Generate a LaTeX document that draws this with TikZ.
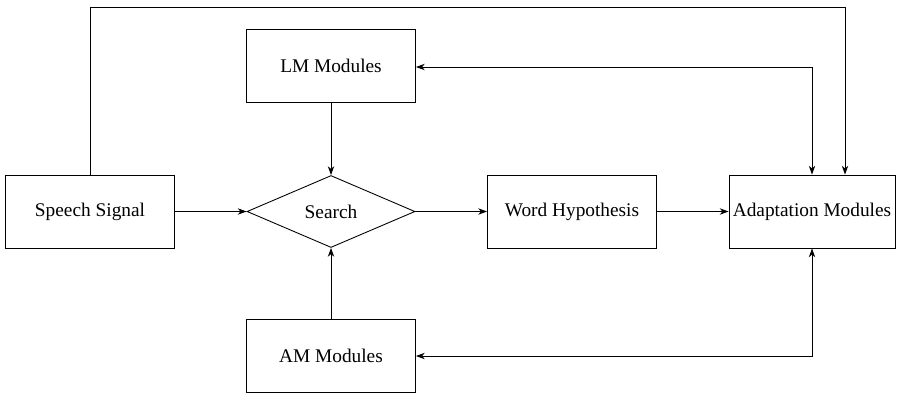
\documentclass[tikz,border=0pt]{standalone}
\usepackage{fontspec}
\setmainfont{Liberation Serif}
\usetikzlibrary{shapes.geometric,arrows.meta}

\tikzset{
  modbox/.style={draw, minimum width=3.38cm, minimum height=1.46cm, inner sep=0pt},
  decide/.style={draw, diamond, aspect=2.33, minimum width=3.36cm, minimum height=1.44cm, inner sep=0pt},
  flow/.style={-{Stealth[length=5pt,width=3.6pt,inset=1.5pt]}},
  twoway/.style={{Stealth[length=5pt,width=3.6pt,inset=1.5pt]}-{Stealth[length=5pt,width=3.6pt,inset=1.5pt]}}
}

\begin{document}
\begin{tikzpicture}[x=0.02cm, y=-0.02cm, font=\fontsize{11}{13}\selectfont, line width=0.5pt]
                \useasboundingbox (0,0) rectangle (901,393);

                \node[modbox] (speech) at (90,211.5) {Speech Signal};
                \node[decide] (search) at (331,211.5) {Search};
                \node[modbox] (lm) at (331,65.5) {LM Modules};
                \node[modbox] (am) at (331,356) {AM Modules};
                \node[modbox] (word) at (572,211.5) {Word Hypothesis};
                \node[modbox, minimum width=3.32cm] (adapt) at (812,211.5) {Adaptation Modules};

                \coordinate (topright) at (845,7);

                \draw[flow] (speech) -- (search);
                \draw[flow] (search) -- (word);
                \draw[flow] (word) -- (adapt);
                \draw[flow] (lm) -- (search);
                \draw[flow] (am) -- (search);

                \draw[twoway] ([yshift=-0.03cm]lm.east) -| (adapt.north);
                \draw[twoway] (am.east) -| (adapt.south);

                \draw[flow] (speech.north) |- (topright) -- (adapt.north -| topright);
            \end{tikzpicture}
\end{document}
